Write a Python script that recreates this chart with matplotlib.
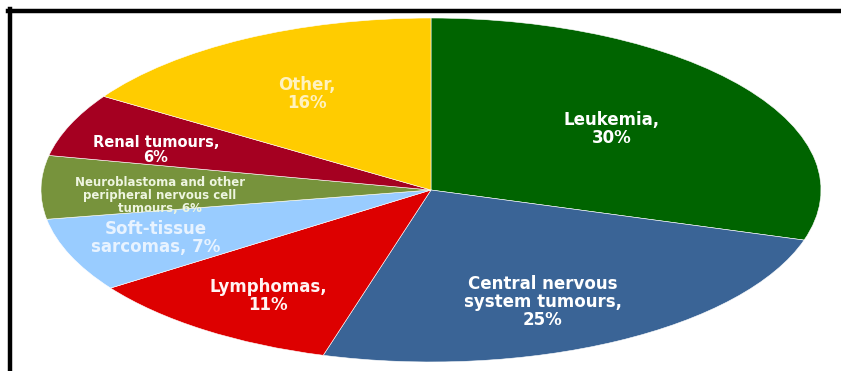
import matplotlib
matplotlib.use("Agg")
import matplotlib.pyplot as plt
from matplotlib.lines import Line2D

# childhood cancer types, share of cases (%)
categories = ["Leukemia", "Central nervous\nsystem tumours", "Lymphomas",
              "Soft-tissue\nsarcomas", "Neuroblastoma and other\nperipheral nervous cell\ntumours",
              "Renal tumours", "Other"]
shares = [30, 25, 11, 7, 6, 6, 16]
colors = ["#006400", "#3a6496", "#dd0000", "#99ccff", "#77933c", "#a50021", "#ffcc00"]

W, H = 841, 371
# pie ellipse in pixels (centre, half-width, half-height)
CX, CY, RX, RY = 431, 190, 390, 172

# label anchor points (pixels from top-left), font sizes and text colours
label_pos = [(612, 129), (543, 302), (268, 296), (156, 238),
             (160, 195), (156, 150), (307, 94)]
label_size = [12, 12, 12, 12, 8.5, 10.5, 12]
label_color = ["white", "white", "#fff4f4", "#e8f3ff", "#eef5e0", "white", "#fff2bf"]

fig = plt.figure(figsize=(W / 100, H / 100), dpi=100)
ax = fig.add_axes([(CX - RX) / W, (H - CY - RY) / H, 2 * RX / W, 2 * RY / H])
ax.pie(shares, colors=colors, startangle=90, counterclock=False, radius=1.0,
       wedgeprops=dict(edgecolor="white", linewidth=0.4))
ax.set_aspect("auto")
ax.set_xlim(-1, 1)
ax.set_ylim(-1, 1)
ax.axis("off")

for name, val, (px, py), fs, tc in zip(categories, shares, label_pos,
                                       label_size, label_color):
    if name.startswith(("Neuro", "Soft")):
        txt = f"{name}, {val}%"
    else:
        txt = f"{name},\n{val}%"
    ax.text((px - CX) / RX, (CY - py) / RY, txt, ha="center", va="center",
            color=tc, fontsize=fs, fontweight="bold", family="DejaVu Sans",
            linespacing=1.0)

# frame lines along the top and left edges
fig.add_artist(Line2D([8 / W, 1], [1 - 11 / H, 1 - 11 / H], color="black",
                      linewidth=3.2, transform=fig.transFigure))
fig.add_artist(Line2D([10 / W, 10 / W], [0, 1 - 9 / H], color="black",
                      linewidth=3.2, transform=fig.transFigure))

fig.savefig("out.png", dpi=100)
